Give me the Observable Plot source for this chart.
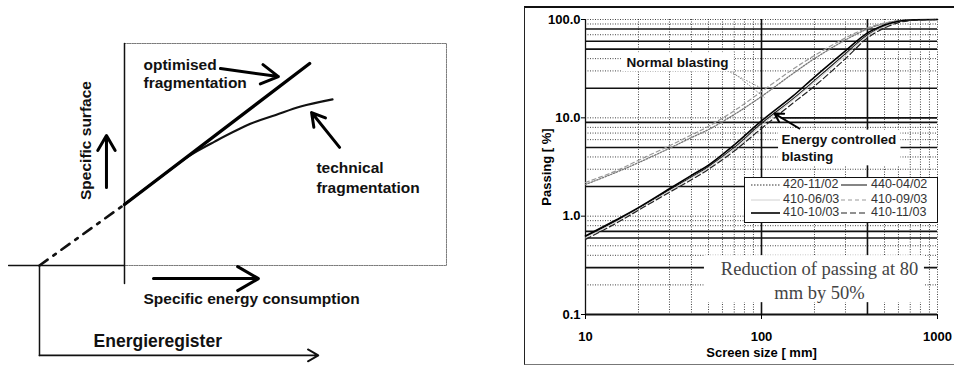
<!DOCTYPE html>
<html><head><meta charset="utf-8">
<script src="https://cdn.jsdelivr.net/npm/d3@7"></script>
<script src="https://cdn.jsdelivr.net/npm/@observablehq/plot@0.6"></script>
<style>
body{margin:0;background:#fff;}
#wrap{position:relative;width:954px;height:365px;overflow:hidden;background:#fff;font-family:"Liberation Sans",Arial,sans-serif;}
#left,#right{position:absolute;top:0;}
#left{left:0;} #right{left:477px;}
#frame{position:absolute;left:524px;top:6px;width:440px;height:356px;border-top:2px solid #111;border-left:1.5px solid #222;border-bottom:1px solid #777;pointer-events:none;}
#legend{position:absolute;left:744px;top:177px;width:194px;height:46px;box-sizing:border-box;border:1px solid #111;background:#fff;font-size:12.5px;color:#333;}
#legend .it{position:absolute;white-space:nowrap;line-height:14px;}
#legend svg{position:absolute;}
</style></head><body>
<div id="wrap"><div id="left"></div><div id="right"></div><div id="frame"></div><div id="legend"></div></div>
<script>
// ---------- LEFT PANEL DATA (conceptual units: energy e, surface s) ----------
const optimisedCurve = [{e:0,s:27.5},{e:57.5,s:91}];
const technicalCurve = [{e:0,s:27.5},{e:11.2,s:39.8},{e:20,s:49.3},{e:28,s:55.8},{e:39.1,s:63.8},{e:47,s:67.8},{e:54.7,s:71.6},{e:64.6,s:74.8}];
const extrapolation = [{e:-26.4,s:0},{e:0,s:27.5}];
const boxOutline = [{e:0,s:100},{e:100,s:100},{e:100,s:0},{e:0,s:0}];
const baseLine = [{e:-36,s:0},{e:0,s:0}];
const surfaceAxis = [{e:0,s:-8.1},{e:0,s:100}];
const registerDrop = [{e:-26.4,s:0},{e:-26.4,s:-40.5}];
const leftArrows = [
  {x1:29.8,y1:88.7,x2:47.8,y2:85.1},
  {x1:66.8,y1:53.2,x2:58.1,y2:68.9},
  {x1:-5.6,y1:35.1,x2:-5.6,y2:58.6},
  {x1:9.0,y1:-5.9,x2:41.6,y2:-5.9}
];
const registerArrow = [{x1:-26.4,y1:-40.5,x2:60.2,y2:-40.5}];
const leftLabels = [
  {e:5.9,s:90.1,t:"optimised",size:15.5},
  {e:5.9,s:82,t:"fragmentation",size:15.5},
  {e:59.6,s:43.7,t:"technical",size:15.5},
  {e:59.6,s:34.7,t:"fragmentation",size:15.5},
  {e:5.9,s:-15.3,t:"Specific energy consumption",size:15.5},
  {e:-9.6,s:-34.2,t:"Energieregister",size:17.5}
];
const surfaceLabel = [{e:-12.1,s:56.3,t:"Specific surface"}];

const left = Plot.plot({
  width:477,height:365,margin:0,
  x:{domain:[-38.51,109.63],range:[0,477],axis:null},
  y:{domain:[-45.05,119.37],range:[365,0],axis:null},
  style:{background:"transparent"},
  marks:[
    Plot.line(boxOutline,{x:"e",y:"s",stroke:"#777",strokeWidth:1,strokeDasharray:"1.5,1"}),
    Plot.line(baseLine,{x:"e",y:"s",stroke:"#111",strokeWidth:1.3}),
    Plot.line(surfaceAxis,{x:"e",y:"s",stroke:"#111",strokeWidth:1.5}),
    Plot.line(extrapolation,{x:"e",y:"s",stroke:"#111",strokeWidth:2.6,strokeDasharray:"10,7,3,7"}),
    Plot.line(technicalCurve,{x:"e",y:"s",stroke:"#111",strokeWidth:2.2,curve:"catmull-rom"}),
    Plot.line(optimisedCurve,{x:"e",y:"s",stroke:"#000",strokeWidth:3.3}),
    Plot.arrow(leftArrows,{x1:"x1",y1:"y1",x2:"x2",y2:"y2",stroke:"#000",strokeWidth:3,headLength:12}),
    Plot.line(registerDrop,{x:"e",y:"s",stroke:"#111",strokeWidth:1.5}),
    Plot.arrow(registerArrow,{x1:"x1",y1:"y1",x2:"x2",y2:"y2",stroke:"#111",strokeWidth:1.8,headLength:10}),
    Plot.text(leftLabels,{x:"e",y:"s",text:"t",textAnchor:"start",fontSize:d=>d.size,fontWeight:"bold",fill:"#111",fontFamily:"Liberation Sans"}),
    Plot.text(surfaceLabel,{x:"e",y:"s",text:"t",rotate:-90,fontSize:15.5,fontWeight:"bold",fill:"#111",fontFamily:"Liberation Sans"})
  ]
});
document.getElementById("left").appendChild(left);

// ---------- RIGHT PANEL DATA ----------
const sizes = [10,15,20,30,40,50,70,100,150,200,300,400,500,600,700,1000];
const p420_1102 = [2.1,2.8,3.5,4.9,6.3,7.6,10.8,16.5,28,40,62,80,91,97,99,100];
const p440_0402 = [0.62,0.9,1.2,1.85,2.5,3.2,5.0,8.8,15.5,24,45,70,86,95,98.5,100];
const p410_0603 = [0.6,0.88,1.18,1.8,2.45,3.1,4.8,8.4,15,23,43,68,85,94,98,100];
const p410_0903 = [2.2,2.9,3.7,5.2,6.7,8.2,11.8,18.5,31,43,65,82,92,97.5,99.5,100];
const p410_1003 = [0.63,0.92,1.22,1.9,2.6,3.3,5.3,9.3,16.5,26,48,73,88,96,99,100];
const p410_1103 = [0.58,0.85,1.15,1.75,2.35,3.0,4.6,7.8,14,21,40,65,82,93,97.5,100];
const seriesNames = ["420-11/02","440-04/02","410-06/03","410-09/03","410-10/03","410-11/03"];
const seriesValues = [p420_1102,p440_0402,p410_0603,p410_0903,p410_1003,p410_1103];
const seriesStyle = {
  "420-11/02":{stroke:"#777",w:1.3,dash:"1.5,1.5"},
  "440-04/02":{stroke:"#222",w:1.1,dash:null},
  "410-06/03":{stroke:"#d0d0d0",w:1,dash:null},
  "410-09/03":{stroke:"#999",w:1.2,dash:"4,3"},
  "410-10/03":{stroke:"#000",w:1.6,dash:null},
  "410-11/03":{stroke:"#222",w:1.2,dash:"6,3"}
};
const rows = seriesNames.flatMap((n,i)=>sizes.map((s,j)=>({series:n,size:s,passing:seriesValues[i][j]})));

const xTicks = [10,100,1000];
const yTicks = [0.1,1,10,100];
const xMinor = [20,30,40,50,60,70,80,90,200,300,500,600,700,800,900,1000];
const yMinor = [0.2,0.4,0.5,0.8,0.9,1,3,4,6,7,8,10,30,40,70,90,100];
const xSolid = [100,400];
const ySolid = [0.3,0.6,0.7,2,5,9,20,50,60,80];

const annoBoxes = [
  {x1:16,x2:70,y1:29.5,y2:46},
  {x1:125,x2:620,y1:3.25,y2:7.5},
  {x1:47.4,x2:843,y1:0.132,y2:0.397}
];
const boldNotes = [
  {x:17.1,y:36.5,t:"Normal blasting"},
  {x:130,y:6.03,t:"Energy controlled"},
  {x:130,y:4.04,t:"blasting"}
];
const serifNotes = [
  {x:213.6,y:0.293,t:"Reduction of passing at 80"},
  {x:213.6,y:0.167,t:"mm by 50%"}
];
const leaders = [{x1:66.7,y1:30.3,x2:104,y2:16.1},{x1:62,y1:31,x2:100,y2:20}];
const energyArrow = [{x1:164,y1:7.79,x2:118.5,y2:11.06}];

const right = Plot.plot({
  width:477,height:365,
  marginLeft:108,marginRight:17,marginTop:19,marginBottom:51,
  x:{type:"log",domain:[10,1000]},
  y:{type:"log",domain:[0.1,100]},
  style:{background:"transparent",fontFamily:"Liberation Sans"},
  marks:[
    Plot.ruleX(xMinor,{stroke:"#444",strokeWidth:1,strokeDasharray:"1,1.5"}),
    Plot.ruleY(yMinor,{stroke:"#444",strokeWidth:1,strokeDasharray:"1,1.5"}),
    Plot.ruleY(ySolid,{stroke:"#111",strokeWidth:1.6}),
    Plot.ruleY([10],{x1:130,x2:1000,stroke:"#111",strokeWidth:1.6}),
    Plot.ruleX(xSolid,{stroke:"#111",strokeWidth:1.6}),
    Plot.ruleX([10],{stroke:"#111",strokeWidth:1.3}),
    Plot.ruleY([0.1],{stroke:"#111",strokeWidth:2}),
    ...seriesNames.map(n=>Plot.line(rows.filter(d=>d.series===n),{x:"size",y:"passing",stroke:seriesStyle[n].stroke,strokeWidth:seriesStyle[n].w,strokeDasharray:seriesStyle[n].dash,curve:"catmull-rom"})),
    Plot.link(leaders,{x1:"x1",y1:"y1",x2:"x2",y2:"y2",stroke:"#888",strokeWidth:1,strokeDasharray:"1.5,1.5"}),
    Plot.rect(annoBoxes,{x1:"x1",x2:"x2",y1:"y1",y2:"y2",fill:"#fff"}),
    Plot.arrow(energyArrow,{x1:"x1",y1:"y1",x2:"x2",y2:"y2",stroke:"#000",strokeWidth:2,headLength:9}),
    Plot.text(boldNotes,{x:"x",y:"y",text:"t",textAnchor:"start",fontSize:13.5,fontWeight:"bold",fill:"#111"}),
    Plot.text(serifNotes,{x:"x",y:"y",text:"t",fontSize:18.5,fontFamily:"Liberation Serif",fill:"#444"}),
    Plot.axisY({ticks:yTicks,tickFormat:d=>d.toFixed(1),tickSize:4,tickPadding:1,fontSize:13,fontWeight:"bold",label:"Passing [ %]",labelAnchor:"center",labelOffset:44,labelArrow:false}),
    Plot.axisX({ticks:xTicks,tickFormat:d=>String(d),tickSize:5,tickPadding:12,fontSize:13,fontWeight:"bold",label:"Screen size [ mm]",labelAnchor:"center",labelOffset:42,labelArrow:false})
  ]
});
document.getElementById("right").appendChild(right);

// ---------- LEGEND ----------
const legendCols = [{sx:6,sw:29,tx:38},{sx:96,sw:26,tx:126}];
const legendRowsY = [7,22,35];
const leg = document.getElementById("legend");
seriesNames.forEach((n,i)=>{
  const col = legendCols[i%2], ry = legendRowsY[Math.floor(i/2)];
  const st = seriesStyle[n];
  const svg = d3.create("svg").attr("width",col.sw).attr("height",4).style("left",col.sx+"px").style("top",(ry-2)+"px");
  svg.append("line").attr("x1",0).attr("x2",col.sw).attr("y1",2).attr("y2",2).attr("stroke",st.stroke).attr("stroke-width",st.w).attr("stroke-dasharray",st.dash);
  leg.appendChild(svg.node());
  const t = document.createElement("div");
  t.className="it"; t.textContent=n; t.style.left=col.tx+"px"; t.style.top=(ry-8)+"px";
  leg.appendChild(t);
});
</script>
</body></html>
